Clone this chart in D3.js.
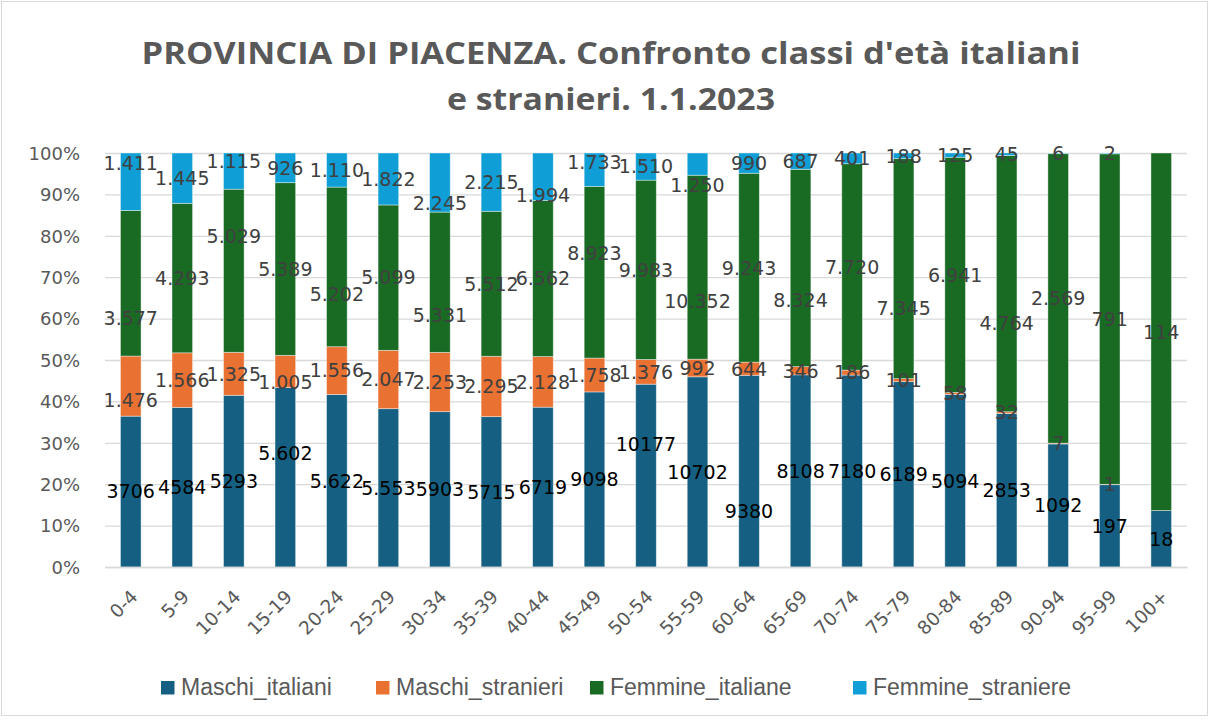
<!DOCTYPE html>
<html>
<head>
<meta charset="utf-8">
<script src="https://cdn.jsdelivr.net/npm/d3@7"></script>
<style>
  html, body { margin: 0; padding: 0; background: #fff; }
  svg { display: block; }
</style>
</head>
<body>
<svg id="chart" width="1213" height="720"></svg>
<script>
// ---------------- DATA ----------------
const categories = ["0-4","5-9","10-14","15-19","20-24","25-29","30-34","35-39","40-44","45-49",
  "50-54","55-59","60-64","65-69","70-74","75-79","80-84","85-89","90-94","95-99","100+"];
const seriesNames = ["Maschi_italiani","Maschi_stranieri","Femmine_italiane","Femmine_straniere"];
const maschiItaliani   = [3706,4584,5293,5602,5622,5553,5903,5715,6719,9098,10177,10702,9380,8108,7180,6189,5094,2853,1092,197,18];
const maschiStranieri  = [1476,1566,1325,1005,1556,2047,2253,2295,2128,1758,1376,992,644,346,186,101,58,32,7,1,0];
const femmineItaliane  = [3577,4293,5029,5389,5202,5099,5331,5512,6562,8923,9983,10352,9243,8324,7720,7345,6941,4764,2569,791,114];
const femmineStraniere = [1411,1445,1115,926,1110,1822,2245,2215,1994,1733,1510,1250,990,687,401,188,125,45,6,2,0];
// label texts of Maschi_italiani as printed in the source chart
const maschiItalianiLabels = ["3706","4584","5293","5.602","5.622","5.553","5903","5715","6719","9098",
  "10177","10702","9380","8108","7180","6189","5094","2853","1092","197","18"];
const yTickValues = [0,0.1,0.2,0.3,0.4,0.5,0.6,0.7,0.8,0.9,1.0];
const titleLines = ["PROVINCIA DI PIACENZA. Confronto classi d'età italiani", "e stranieri. 1.1.2023"];

// ---------------- LAYOUT (label positions moved by hand in the source, as share of bar) ----------------
const labelOverrides = [
  ["0-4",1,0.403],["0-4",2,0.601],["0-4",3,0.976],
  ["10-14",2,0.798],["10-14",3,0.981],
  ["15-19",0,0.275],["15-19",1,0.446],
  ["20-24",2,0.659],
  ["30-34",2,0.609],["30-34",3,0.880],
  ["40-44",3,0.899],
  ["45-49",2,0.758],["45-49",3,0.977],
  ["50-54",0,0.297],
  ["55-59",2,0.641],["55-59",3,0.923],
  ["60-64",0,0.134],
  ["65-69",2,0.645],
  ["75-79",2,0.625],
  ["85-89",2,0.589]
];
const titleWidths = [939, 328];

const colors = ["#156082","#E97132","#196B24","#0F9ED5"];
const labelColors = ["#000000","#404040","#404040","#404040"];

const svg = d3.select("#chart");

// outer border
svg.append("rect").attr("x",1.5).attr("y",1.5).attr("width",1206).attr("height",714)
  .attr("fill","#fff").attr("stroke","#d9d9d9").attr("stroke-width",1);

const x = d3.scaleBand().domain(categories).range([105, 1187]).paddingInner(0.6).paddingOuter(0.3);
const y = d3.scaleLinear().domain([0,1]).range([567,153]);

// rows
const rows = categories.map((c,i) => {
  const r = {cat: c};
  r[seriesNames[0]] = maschiItaliani[i];
  r[seriesNames[1]] = maschiStranieri[i];
  r[seriesNames[2]] = femmineItaliane[i];
  r[seriesNames[3]] = femmineStraniere[i];
  return r;
});
const stacked = d3.stack().keys(seriesNames).offset(d3.stackOffsetExpand)(rows);

// grid
const yAxis = d3.axisLeft(y).tickValues(yTickValues).tickFormat(d3.format(".0%")).tickSize(-(1187-105)).tickPadding(25);
const gy = svg.append("g").attr("transform","translate(105,0)").call(yAxis);
gy.select(".domain").remove();
gy.selectAll(".tick line").attr("stroke","#d9d9d9").attr("stroke-width",1.3);
gy.selectAll(".tick text").attr("fill","#595959").attr("font-family","DejaVu Sans")
  .attr("font-size",18).attr("dy","0.35em");

// bars
svg.append("g").selectAll("g").data(stacked).join("g")
  .attr("fill",(d,i)=>colors[i])
  .selectAll("rect").data(d=>d).join("rect")
  .attr("x",d=>x(d.data.cat))
  .attr("width",x.bandwidth())
  .attr("y",d=>y(d[1]))
  .attr("height",d=>Math.max(0,y(d[0])-y(d[1])))
  .attr("stroke","#ffffff").attr("stroke-opacity",0.5).attr("stroke-width",0.8);

// x axis
const xAxis = d3.axisBottom(x).tickSize(0).tickPadding(0);
const gx = svg.append("g").attr("transform","translate(0,567)").call(xAxis);
gx.select(".domain").attr("stroke","#d9d9d9").attr("stroke-width",1.5);
gx.selectAll(".tick text")
  .attr("fill","#595959").attr("font-family","DejaVu Sans").attr("font-size",18.5)
  .attr("text-anchor","end")
  .attr("dy",0).attr("y",0)
  .attr("transform","translate(8,31) rotate(-45)");

// labels
const fmt = d3.formatLocale({decimal:",", thousands:".", grouping:[3]}).format(",d");
const overrideMap = new Map(labelOverrides.map(o => [o[0]+"|"+o[1], o[2]]));
const labelData = [];
stacked.forEach((s,si) => {
  s.forEach((d,ci) => {
    const v = d.data[seriesNames[si]];
    if (!v) return;
    const key = d.data.cat + "|" + si;
    const pos = overrideMap.has(key) ? overrideMap.get(key) : (d[0]+d[1])/2;
    labelData.push({cat: d.data.cat, si, pos,
      text: si === 0 ? maschiItalianiLabels[ci] : fmt(v)});
  });
});
svg.append("g").selectAll("text").data(labelData).join("text")
  .attr("x",d=>x(d.cat)+x.bandwidth()/2)
  .attr("y",d=>y(d.pos))
  .attr("dy","0.36em")
  .attr("text-anchor","middle")
  .attr("font-family","DejaVu Sans").attr("font-size",19)
  .attr("fill",d=>labelColors[d.si])
  .text(d=>d.text);

// title
svg.append("g").selectAll("text").data(titleLines).join("text")
  .attr("x",611).attr("y",(d,i)=>64+i*46)
  .attr("text-anchor","middle")
  .attr("font-family","Open Sans").attr("font-weight","bold").attr("font-size",31)
  .attr("fill","#595959")
  .attr("textLength",(d,i)=>titleWidths[i]).attr("lengthAdjust","spacingAndGlyphs")
  .text(d=>d);

// legend
const legendX = [161, 376, 590, 853];
const lg = svg.append("g").selectAll("g").data(seriesNames).join("g")
  .attr("transform",(d,i)=>`translate(${legendX[i]},681)`);
lg.append("rect").attr("width",13.5).attr("height",13.5).attr("fill",(d,i)=>colors[i]);
lg.append("text").attr("x",20).attr("y",14).attr("font-family","Liberation Sans")
  .attr("font-size",23).attr("fill","#595959").text(d=>d);
</script>
</body>
</html>
